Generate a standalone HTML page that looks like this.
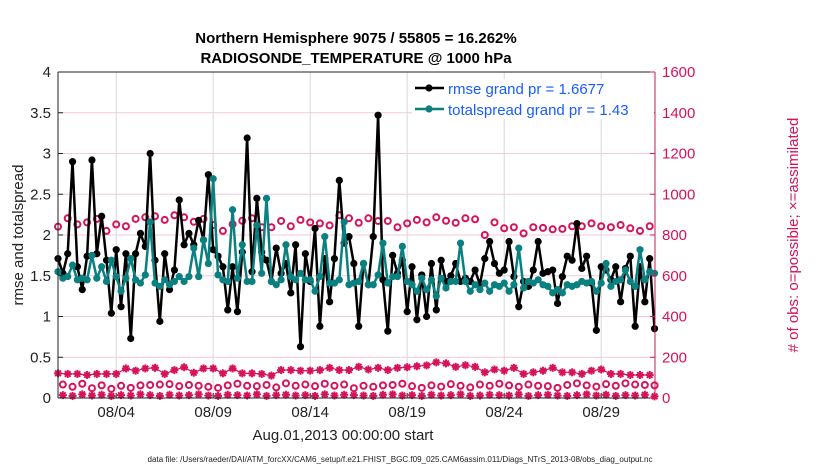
<!DOCTYPE html>
<html><head><meta charset="utf-8"><style>
body{margin:0;background:#fff;}
svg text{font-family:"Liberation Sans",Arial,sans-serif;}
</style></head><body>
<svg id="chart" width="830" height="470" xmlns="http://www.w3.org/2000/svg">
<rect width="830" height="470" fill="#fff"/>
<g id="grid"></g>
<g id="obs"></g>
<g id="series"></g>
<g id="axes"></g>
</svg>
<script>
const rmse=[1.71,1.53,1.77,2.90,1.61,1.33,1.74,2.92,1.77,2.23,1.69,1.04,1.82,1.12,1.77,0.73,1.77,2.02,1.86,3.0,1.69,0.94,1.77,1.33,1.57,2.43,1.88,2.02,1.88,2.18,1.94,2.74,1.82,1.74,1.61,1.08,1.61,1.06,1.79,3.19,
1.55,2.45,1.79,1.69,1.43,1.84,1.53,1.65,1.29,1.88,0.63,1.77,1.43,2.08,0.88,1.71,1.18,1.71,2.67,1.90,1.98,1.65,0.88,1.65,1.39,1.98,3.47,1.45,0.82,1.75,1.53,1.69,1.06,1.61,0.96,1.51,1.0,1.65,1.08,1.69,1.43,
1.50,1.65,1.43,1.47,1.43,1.57,1.39,1.71,1.92,1.65,1.53,1.57,1.92,1.49,1.12,1.43,1.37,1.57,1.92,1.53,1.55,1.57,1.16,1.49,1.74,1.69,2.14,1.59,1.74,1.41,0.83,1.61,1.57,1.45,1.61,1.18,1.59,1.74,0.88,1.61,1.18,1.71,0.85];
const spread=[1.55,1.47,1.49,1.63,1.45,1.47,1.45,1.75,1.47,1.61,1.43,1.69,1.49,1.31,1.47,1.71,1.45,1.41,1.51,2.16,1.41,1.37,1.45,1.39,1.43,1.49,1.43,1.49,1.84,1.49,1.94,1.65,2.69,1.51,1.45,1.43,2.31,1.47,1.88,1.43,
1.43,2.12,1.53,2.45,1.43,1.39,1.45,1.88,1.49,1.45,1.53,1.45,1.45,1.31,1.49,1.98,1.41,1.41,1.45,2.16,1.39,1.41,1.43,1.65,1.39,1.39,1.51,1.90,1.41,1.49,1.49,1.86,1.43,1.39,1.31,1.47,1.33,1.45,1.25,1.47,1.35,
1.43,1.43,1.90,1.43,1.31,1.39,1.33,1.41,1.31,1.39,1.37,1.41,1.31,1.39,1.84,1.35,1.43,1.41,1.45,1.39,1.37,1.29,1.33,1.29,1.39,1.37,1.39,1.43,1.41,1.43,1.31,1.41,1.65,1.37,1.43,1.45,1.57,1.43,1.37,1.82,1.45,1.55,1.53];
// even indices (00Z/12Z) and odd indices (06Z/18Z)
const possEven=[841,882,852,862,879,820,852,843,879,887,892,874,897,887,865,879,849,820,853,870,882,838,838,869,843,874,862,857,847,897,882,860,882,869,869,838,857,874,862,887,870,860,882,877,800,862,833,838,808,838,835,828,830,843,843,857,843,838,849,833,820,843];
const possOdd=[66,55,70,48,62,45,60,50,62,64,66,68,58,64,60,55,50,62,70,60,58,64,52,72,60,66,58,70,60,66,48,60,55,62,64,70,58,50,62,56,68,60,52,66,60,70,62,55,66,60,58,50,64,72,62,56,68,60,72,66,64,62];
const assimEven=[121,118,118,113,118,118,118,145,134,145,148,118,137,151,124,145,145,121,145,121,121,118,110,137,137,134,134,137,148,137,137,153,140,148,137,148,151,156,160,175,170,153,161,153,126,140,134,148,118,126,134,148,126,126,118,134,140,118,118,113,113,113];
const assimOdd=[14,10,18,12,16,10,14,12,18,14,10,16,12,14,18,12,10,16,14,12,18,10,14,16,12,14,10,18,12,16,14,12,10,16,18,12,14,10,16,12,14,18,10,12,16,14,12,18,10,14,16,12,10,14,18,12,16,10,14,12,16,8];
const leftTicks=[0,0.5,1,1.5,2,2.5,3,3.5,4];
const leftTickLabels=["0","0.5","1","1.5","2","2.5","3","3.5","4"];
const rightTicks=[0,200,400,600,800,1000,1200,1400,1600];
const dateTicks=[3,8,13,18,23,28];
const dateLabels=["08/04","08/09","08/14","08/19","08/24","08/29"];

const X0=58,X1=655,Y0=398,Y1=72;
const xs=t=>X0+t*19.4;
const ys=v=>Y0-(v/4)*(Y0-Y1);
const yr=n=>Y0-(n/1600)*(Y0-Y1);
const NS="http://www.w3.org/2000/svg";
function mk(tag,attrs,parent){const e=document.createElementNS(NS,tag);for(const k in attrs)e.setAttribute(k,attrs[k]);parent.appendChild(e);return e;}
const grid=document.getElementById('grid'),obs=document.getElementById('obs'),ser=document.getElementById('series'),ax=document.getElementById('axes');
const PINK="#d6135a";
leftTicks.forEach(v=>{if(v>0&&v<4){const l=mk('line',{x1:X0,x2:X1,y1:ys(v),y2:ys(v),stroke:'#f2cadb','stroke-width':1},grid);

}});
dateTicks.forEach(d=>{const l=mk('line',{x1:xs(d),x2:xs(d),y1:Y1,y2:Y0,stroke:'#d8d8d8','stroke-width':1},grid);

});
function circ(x,y,g){const c=mk('circle',{cx:x,cy:y,r:3,fill:'none',stroke:PINK,'stroke-width':2},g);return c;}
function star(x,y,g){const s=mk('g',{},g);const r=4;for(let a=0;a<4;a++){const an=a*Math.PI/4;mk('line',{x1:x-r*Math.cos(an),y1:y-r*Math.sin(an),x2:x+r*Math.cos(an),y2:y+r*Math.sin(an),stroke:PINK,'stroke-width':2},s);}return s;}
possEven.forEach((n,k)=>{const c=circ(xs(2*k*0.25),yr(n),obs);

});
possOdd.forEach((n,k)=>{const c=circ(xs((2*k+1)*0.25),yr(n),obs);

});
assimEven.forEach((n,k)=>{const s=star(xs(2*k*0.25),yr(n),obs);

});
assimOdd.forEach((n,k)=>{const s=star(xs((2*k+1)*0.25),yr(n),obs);

});
let dA='';assimEven.forEach((n,k)=>{dA+=(k?'L':'M')+xs(2*k*0.25)+','+yr(n);});
const la=mk('path',{d:dA,fill:'none',stroke:PINK,'stroke-width':1.2},obs);


function series(arr,color,name){let d='';arr.forEach((v,i)=>{d+=(i?'L':'M')+xs(i*0.25).toFixed(1)+','+ys(v).toFixed(1);});
const p=mk('path',{d:d,fill:'none',stroke:color,'stroke-width':2.5,'stroke-linejoin':'round'},ser);


arr.forEach((v,i)=>{const c=mk('circle',{cx:xs(i*0.25),cy:ys(v),r:3.6,fill:color},ser);

});}
series(rmse,'#000','rmse');
series(spread,'#0a8080','totalspread');
mk('line',{x1:X0,x2:X1,y1:Y1,y2:Y1,stroke:'#222','stroke-width':1},ax);
mk('line',{x1:X0,x2:X1,y1:Y0,y2:Y0,stroke:'#222','stroke-width':1},ax);
mk('line',{x1:X0,x2:X0,y1:Y1,y2:Y0,stroke:'#222','stroke-width':1},ax);
mk('line',{x1:X1,x2:X1,y1:Y1,y2:Y0,stroke:PINK,'stroke-width':1},ax);
leftTicks.forEach((v,i)=>{mk('line',{x1:X0,x2:X0+5,y1:ys(v),y2:ys(v),stroke:'#222'},ax);
const t=mk('text',{x:X0-7,y:ys(v)+5,'text-anchor':'end','font-size':15,fill:'#222'},ax);t.textContent=leftTickLabels[i];

});
rightTicks.forEach(v=>{mk('line',{x1:X1-5,x2:X1,y1:yr(v),y2:yr(v),stroke:PINK},ax);
const t=mk('text',{x:X1+7,y:yr(v)+5,'font-size':15,fill:PINK},ax);t.textContent=String(v);

});
dateTicks.forEach((d,i)=>{mk('line',{x1:xs(d),x2:xs(d),y1:Y0,y2:Y0-5,stroke:'#222'},ax);
const t=mk('text',{x:xs(d),y:417,'text-anchor':'middle','font-size':15,fill:'#222'},ax);t.textContent=dateLabels[i];

});
</script>
<svg style="position:absolute;left:0;top:0" width="830" height="470" xmlns="http://www.w3.org/2000/svg">
<text x="356" y="43" text-anchor="middle" font-size="15" font-weight="bold" fill="#000">Northern Hemisphere 9075 / 55805 = 16.262%</text>
<text x="356" y="63" text-anchor="middle" font-size="15" font-weight="bold" fill="#000">RADIOSONDE_TEMPERATURE @ 1000 hPa</text>
<text transform="translate(23,235) rotate(-90)" text-anchor="middle" font-size="15" fill="#222">rmse and totalspread</text>
<text transform="translate(798,235) rotate(-90)" text-anchor="middle" font-size="15" fill="#d6135a"># of obs: o=possible; ×=assimilated</text>
<text x="343" y="440" text-anchor="middle" font-size="15" fill="#222">Aug.01,2013 00:00:00 start</text>
<text x="400" y="462" text-anchor="middle" font-size="8" textLength="505" lengthAdjust="spacingAndGlyphs" fill="#222">data file: /Users/raeder/DAI/ATM_forcXX/CAM6_setup/f.e21.FHIST_BGC.f09_025.CAM6assim.011/Diags_NTrS_2013-08/obs_diag_output.nc</text>
<g>
<rect x="412" y="79" width="242" height="40" fill="#fff"/>
<line x1="415" x2="444" y1="88" y2="88" stroke="#000" stroke-width="2.5"/><circle cx="429" cy="88" r="3.6" fill="#000"/>
<text x="448" y="94" font-size="15" fill="#1a5cff">rmse grand pr = 1.6677</text>
<line x1="415" x2="444" y1="109" y2="109" stroke="#0a8080" stroke-width="2.5"/><circle cx="429" cy="109" r="3.6" fill="#0a8080"/>
<text x="448" y="115" font-size="15" fill="#1a5cff">totalspread grand pr = 1.43</text>
</g>
</svg>
</body></html>
